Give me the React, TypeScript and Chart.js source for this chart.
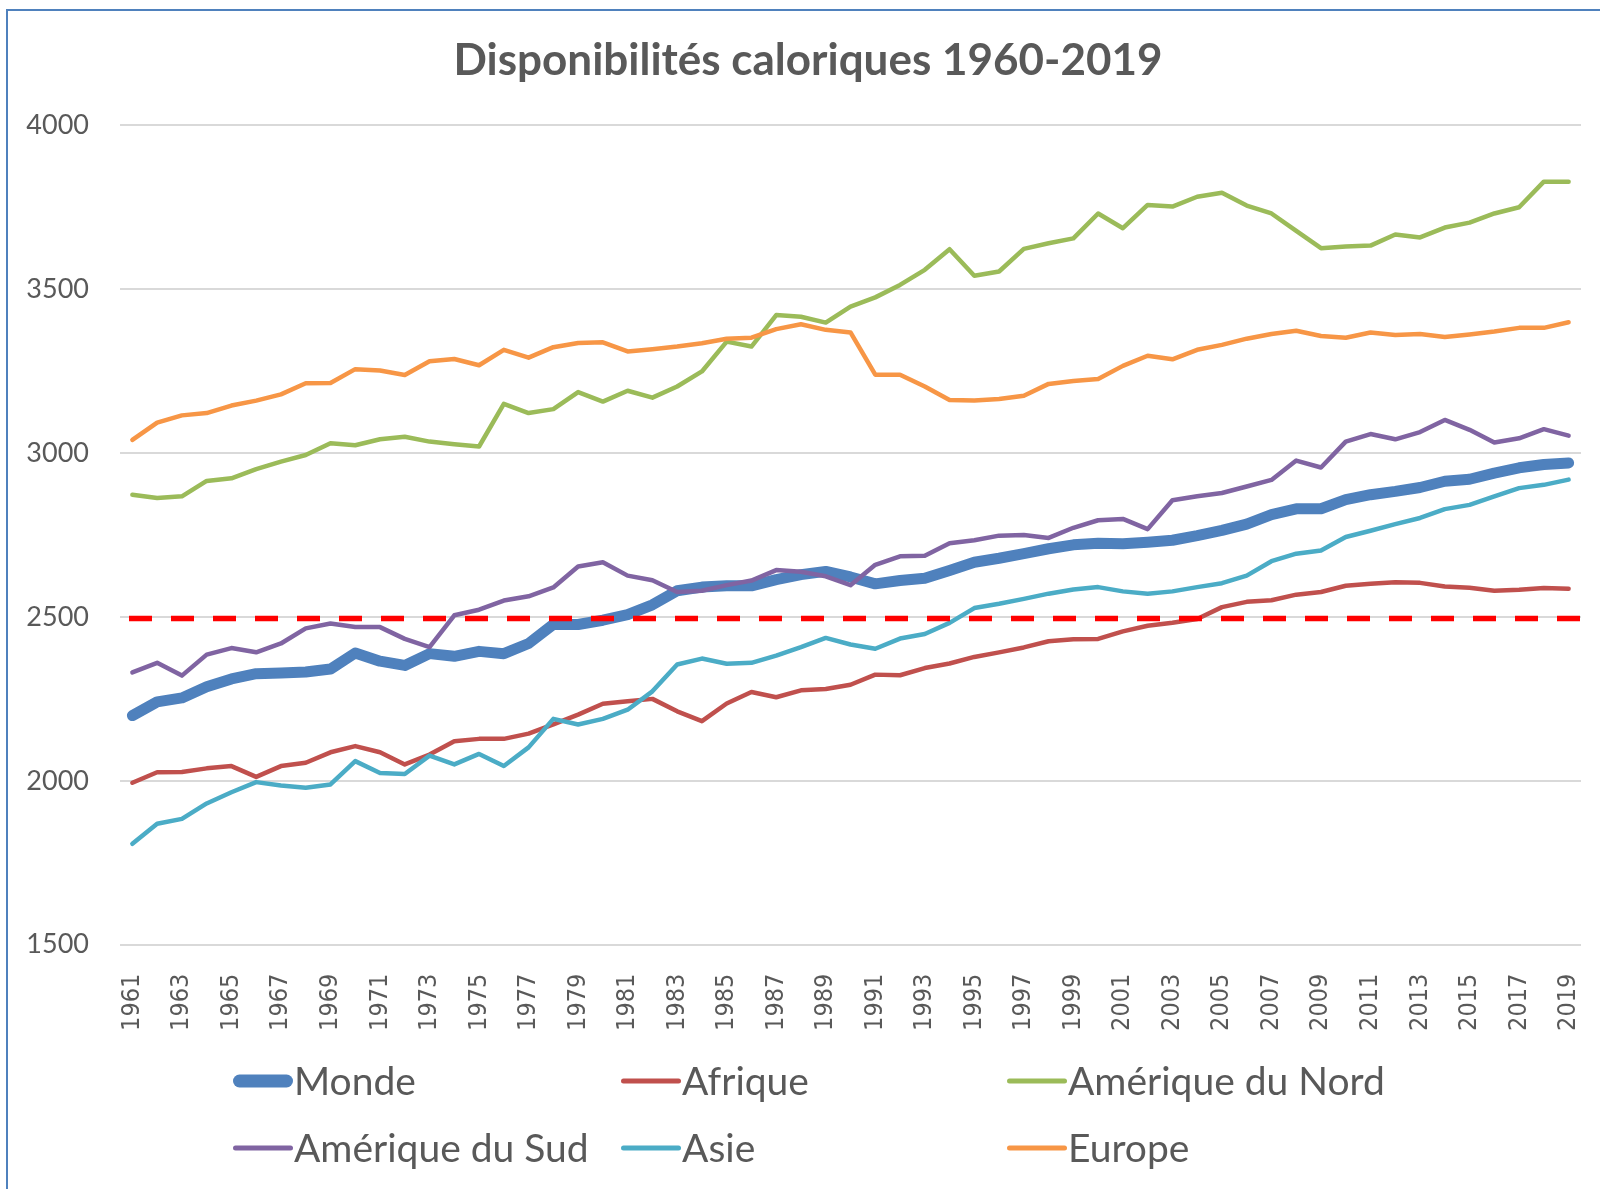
import React, { useEffect, useRef } from "react";
import { Chart, registerables } from "chart.js";

Chart.register(...registerables);

const TITLE = "Disponibilités caloriques 1960-2019";

const YEARS = [
  "1961", "1962", "1963", "1964", "1965", "1966", "1967", "1968", "1969", "1970",
  "1971", "1972", "1973", "1974", "1975", "1976", "1977", "1978", "1979", "1980",
  "1981", "1982", "1983", "1984", "1985", "1986", "1987", "1988", "1989", "1990",
  "1991", "1992", "1993", "1994", "1995", "1996", "1997", "1998", "1999", "2000",
  "2001", "2002", "2003", "2004", "2005", "2006", "2007", "2008", "2009", "2010",
  "2011", "2012", "2013", "2014", "2015", "2016", "2017", "2018", "2019",
];

const Y_MIN = 1500;
const Y_MAX = 4000;
const Y_STEP = 500;

const MONDE = [
  2199, 2241, 2253, 2287, 2311, 2327, 2329, 2332, 2341, 2390,
  2365, 2352, 2388, 2380, 2395, 2388, 2419, 2477, 2477, 2490,
  2507, 2537, 2580, 2591, 2595, 2595, 2614, 2629, 2639, 2622,
  2601, 2611, 2618, 2642, 2667, 2679, 2693, 2708, 2720, 2725,
  2723, 2728, 2734, 2748, 2764, 2783, 2812, 2830, 2830, 2858,
  2873, 2883, 2895, 2914, 2920, 2939, 2955, 2965, 2970,
];

const AFRIQUE = [
  1994, 2026, 2027, 2038, 2045, 2012, 2045, 2055, 2087, 2106,
  2087, 2050, 2080, 2121, 2128, 2128, 2144, 2172, 2202, 2235,
  2243, 2250, 2212, 2182, 2236, 2271, 2255, 2276, 2280, 2293,
  2324, 2322, 2344, 2358, 2378, 2392, 2407, 2426, 2432, 2433,
  2456, 2473, 2482, 2494, 2530, 2546, 2551, 2568, 2576, 2595,
  2601, 2606, 2604, 2593, 2589, 2580, 2583, 2588, 2586,
];

const AMERIQUE_NORD = [
  2873, 2863, 2868, 2915, 2923, 2951, 2974, 2994, 3030, 3024,
  3042, 3050, 3035, 3027, 3020, 3150, 3122, 3134, 3186, 3157,
  3190, 3169, 3203, 3249, 3340, 3325, 3421, 3416, 3398, 3447,
  3475, 3513, 3559, 3622, 3541, 3554, 3623, 3640, 3655, 3731,
  3686, 3757, 3752, 3782, 3794, 3755, 3731, 3678, 3625, 3630,
  3633, 3667, 3658, 3688, 3703, 3731, 3750, 3828, 3828,
];

const AMERIQUE_SUD = [
  2331, 2360, 2321, 2385, 2405, 2392, 2419, 2465, 2480, 2469,
  2469, 2433, 2408, 2505, 2522, 2550, 2563, 2590, 2654, 2667,
  2626, 2612, 2576, 2580, 2597, 2611, 2643, 2638, 2624, 2597,
  2659, 2685, 2687, 2725, 2734, 2748, 2750, 2741, 2772, 2795,
  2799, 2768, 2856, 2868, 2878, 2898, 2918, 2977, 2956, 3035,
  3058, 3042, 3064, 3101, 3071, 3032, 3045, 3073, 3053,
];

const ASIE = [
  1808, 1869, 1884, 1931, 1965, 1996, 1986, 1979, 1989, 2060,
  2024, 2021, 2077, 2050, 2082, 2045, 2102, 2189, 2172, 2189,
  2217, 2273, 2355, 2373, 2357, 2360, 2382, 2408, 2436, 2416,
  2403, 2434, 2448, 2482, 2527, 2540, 2555, 2571, 2584, 2591,
  2578, 2571, 2578, 2591, 2603, 2626, 2670, 2693, 2703, 2744,
  2763, 2783, 2802, 2829, 2842, 2868, 2893, 2903, 2919,
];

const EUROPE = [
  3040, 3093, 3115, 3122, 3145, 3160, 3179, 3213, 3214, 3256,
  3252, 3238, 3280, 3287, 3268, 3315, 3291, 3323, 3336, 3338,
  3310, 3317, 3325, 3335, 3349, 3352, 3378, 3393, 3376, 3368,
  3239, 3239, 3203, 3162, 3160, 3165, 3175, 3211, 3220, 3226,
  3266, 3297, 3286, 3315, 3330, 3349, 3363, 3373, 3357, 3352,
  3368, 3360, 3363, 3354, 3362, 3371, 3382, 3382, 3399,
];

const THRESHOLD = 2495;

const SERIES_NAMES = ["Monde", "Afrique", "Amérique du Nord", "Amérique du Sud", "Asie", "Europe"];
const SERIES_DATA = [MONDE, AFRIQUE, AMERIQUE_NORD, AMERIQUE_SUD, ASIE, EUROPE];
const SERIES_COLORS = ["#4F81BD", "#C0504D", "#9BBB59", "#8064A2", "#4BACC6", "#F79646"];
const SERIES_WIDTHS = [11, 4.5, 4.5, 4.5, 4.5, 4.5];
const SERIES_ORDER = [10, 5, 4, 3, 2, 1];

const TEXT_COLOR = "#595959";
const FONT = "Lato, 'Open Sans', sans-serif";

const W = 1600;
const H = 1189;

const titlePlugin = {
  id: "customTitle",
  afterDraw(chart: any) {
    const { ctx } = chart;
    ctx.save();
    ctx.font = `bold 44px ${FONT}`;
    ctx.fillStyle = TEXT_COLOR;
    ctx.textAlign = "center";
    ctx.textBaseline = "middle";
    ctx.fillText(TITLE, 808, 61);
    ctx.restore();
  },
};

const thresholdPlugin = {
  id: "thresholdLine",
  afterDatasetsDraw(chart: any) {
    const { ctx, chartArea, scales } = chart;
    const y = scales.y.getPixelForValue(THRESHOLD);
    ctx.save();
    ctx.strokeStyle = "#FF0000";
    ctx.lineWidth = 5.5;
    ctx.setLineDash([23, 19]);
    ctx.lineCap = "butt";
    ctx.beginPath();
    ctx.moveTo(chartArea.left + 9, y);
    ctx.lineTo(chartArea.right, y);
    ctx.stroke();
    ctx.restore();
  },
};

const legendPlugin = {
  id: "gridLegend",
  afterDraw(chart: any) {
    const { ctx } = chart;
    const colX = [233, 621, 1007];
    const rowY = [1081, 1148];
    const lineLen = 60;
    ctx.save();
    ctx.font = `39px ${FONT}`;
    ctx.textBaseline = "middle";
    ctx.textAlign = "left";
    SERIES_NAMES.forEach((name, i) => {
      const col = i % 3;
      const row = Math.floor(i / 3);
      const x0 = colX[col];
      const y = rowY[row];
      const lw = i === 0 ? 13 : 5;
      ctx.strokeStyle = SERIES_COLORS[i];
      ctx.lineWidth = lw;
      ctx.lineCap = "round";
      ctx.beginPath();
      ctx.moveTo(x0 + lw / 2, y);
      ctx.lineTo(x0 + lineLen - lw / 2, y);
      ctx.stroke();
      ctx.fillStyle = TEXT_COLOR;
      ctx.fillText(name, x0 + lineLen + 1, y + 1);
    });
    ctx.restore();
  },
};

export default function App() {
  const canvasRef = useRef<HTMLCanvasElement | null>(null);

  useEffect(() => {
    document.body.style.overflow = "hidden";
    const canvas = canvasRef.current;
    if (!canvas) return;

    const datasets: any[] = SERIES_NAMES.map((name, i) => ({
      label: name,
      data: SERIES_DATA[i],
      borderColor: SERIES_COLORS[i],
      backgroundColor: SERIES_COLORS[i],
      borderWidth: SERIES_WIDTHS[i],
      borderCapStyle: "round",
      borderJoinStyle: "round",
      pointRadius: 0,
      pointHoverRadius: 0,
      tension: 0,
      fill: false,
      order: SERIES_ORDER[i],
    }));

    const chart = new Chart(canvas, {
      type: "line",
      data: { labels: YEARS, datasets },
      options: {
        responsive: false,
        maintainAspectRatio: false,
        animation: false,
        devicePixelRatio: 1,
        layout: { padding: { left: 0, right: 19, top: 125.3, bottom: 144.3 } },
        plugins: {
          legend: { display: false },
          tooltip: { enabled: false },
          title: { display: false },
        },
        scales: {
          x: {
            type: "category",
            offset: true,
            grid: { display: false, drawTicks: false },
            border: { display: false },
            afterFit(scale: any) {
              scale.height = 100;
              scale.paddingLeft = 0;
              scale.paddingRight = 0;
              scale.paddingTop = 0;
              scale.paddingBottom = 0;
            },
            ticks: {
              autoSkip: false,
              minRotation: 90,
              maxRotation: 90,
              padding: 29,
              color: TEXT_COLOR,
              font: { family: "'Liberation Sans Narrow', 'DejaVu Sans Condensed', 'Liberation Sans', sans-serif", size: 25 },
              callback: (_v: any, index: number) => (index % 2 === 0 ? YEARS[index] : ""),
            },
          },
          y: {
            min: Y_MIN,
            max: Y_MAX,
            grid: { color: "#D9D9D9", lineWidth: 2, drawTicks: false },
            border: { display: false },
            afterFit(scale: any) {
              scale.width = 120;
              scale.paddingTop = 0;
              scale.paddingBottom = 0;
            },
            ticks: {
              stepSize: Y_STEP,
              padding: 31,
              color: TEXT_COLOR,
              font: { family: FONT, size: 27 },
              callback: (v: any) => String(v),
            },
          },
        },
      },
      plugins: [titlePlugin, thresholdPlugin, legendPlugin],
    });

    return () => chart.destroy();
  }, []);

  return (
    <>
      <canvas
        ref={canvasRef}
        width={W}
        height={H}
        style={{ position: "absolute", left: 0, top: 0, width: W, height: H, background: "#FFFFFF" }}
      />
      <div
        style={{
          position: "absolute",
          left: 6,
          top: 9,
          width: W,
          height: H,
          borderLeft: "2px solid #4F81BD",
          borderTop: "2px solid #4F81BD",
          pointerEvents: "none",
          boxSizing: "border-box",
        }}
      />
    </>
  );
}
